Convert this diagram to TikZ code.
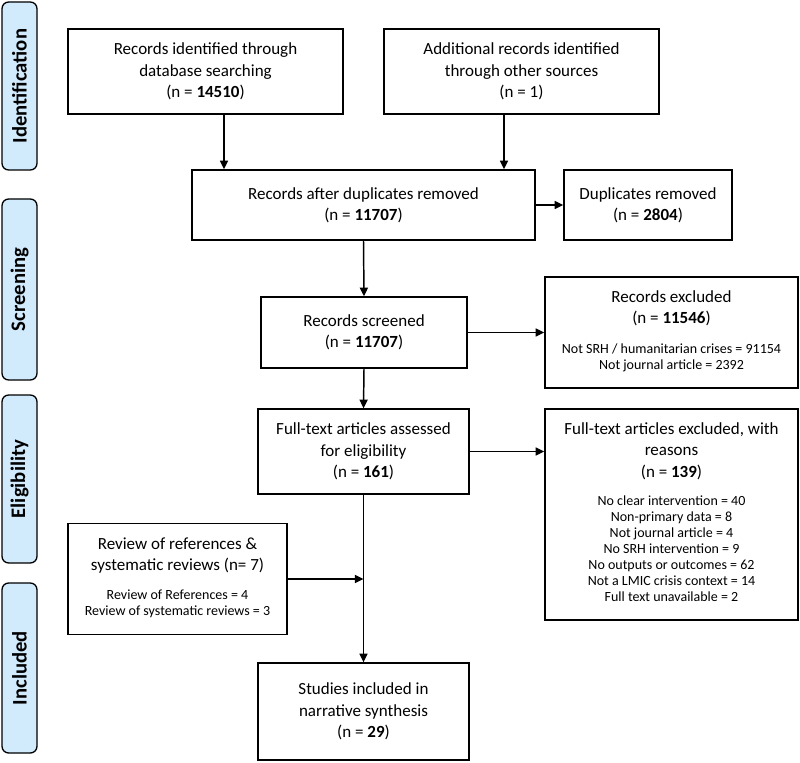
\documentclass[tikz,border=0pt]{standalone}
\usepackage{fontspec}
\setmainfont{Carlito}
\usetikzlibrary{arrows.meta}

\definecolor{stagefill}{RGB}{209,234,252}

\tikzset{every picture/.style={line width=0.75pt}}
\tikzset{
  box/.style={draw, line width=1pt, align=center, inner sep=0.75pt, font=\fontsize{12.75}{16}\selectfont},
  stage/.style={draw, line width=1pt, rounded corners=5pt, fill=stagefill, rotate=90, inner sep=0.75pt, font=\fontsize{15.5}{17}\selectfont\bfseries},
  flow/.style={line width=1.1pt, -{Triangle[length=6.5pt,width=6pt]}},
}
% small lines under a box title
\newcommand{\smalllines}[1]{\fontsize{10.5}{12}\selectfont\begin{tabular}{@{}c@{}}#1\end{tabular}}

\begin{document}
\begin{tikzpicture}[x=0.75pt,y=0.75pt,yscale=-1.0,xscale=1.0]
    \useasboundingbox (0,0) rectangle (800,763);

    % Stage Node
    \node (ident) [stage, minimum width=126pt, minimum height=26.25pt] at (19.5,86) {Identification};
    \node (screen) [stage, minimum width=135.75pt, minimum height=26.25pt] at (19.5,289.5) {Screening};
    \node (elig) [stage, minimum width=126pt, minimum height=26.25pt] at (19.5,479) {Eligibility};
    \node (incl) [stage, minimum width=127.5pt, minimum height=26.25pt] at (19.5,668) {Included};

    % Text Node
    \node (dbsearch) [box, minimum width=206.25pt, minimum height=63.75pt] at (205.5,71.5) {Records identified through\\database searching\\(n = \textbf{14510})};
    % Text Node
    \node (other) [box, minimum width=206.25pt, minimum height=63.75pt] at (521.5,71.5) {Additional records identified\\through other sources\\(n = 1)};
    % Text Node
    \node (dedup) [box, minimum width=257.25pt, minimum height=52.5pt] at (363.5,205) {Records after duplicates removed\\(n = \textbf{11707})};
    % Text Node
    \node (dupl) [box, minimum width=126pt, minimum height=52.5pt] at (648,205) {Duplicates removed\\(n = \textbf{2804})};
    % Text Node
    \node (screened) [box, minimum width=154.5pt, minimum height=53.25pt] at (364,332.5) {Records screened\\(n = \textbf{11707})};
    % Text Node
    \node (excl1) [box, minimum width=189.75pt, minimum height=83.25pt] at (671.5,332.5) {Records excluded\\(n = \textbf{11546})\\[11pt]
      \smalllines{Not SRH / humanitarian crises = 91154\\Not journal article = 2392}};
    % Text Node
    \node (fulltext) [box, minimum width=158.25pt, minimum height=63.75pt] at (363.5,451.5) {Full-text articles assessed\\for eligibility\\(n = \textbf{161})};
    % Text Node
    \node (excl2) [box, minimum width=189.75pt, minimum height=158.25pt] at (671.5,514.5) {Full-text articles excluded, with\\reasons\\(n = \textbf{139})\\[10pt]
      \smalllines{No clear intervention = 40\\Non-primary data = 8\\Not journal article = 4\\No SRH intervention = 9\\No outputs or outcomes = 62\\Not a LMIC crisis context = 14\\Full text unavailable = 2}};
    % Text Node
    \node (review) [box, minimum width=164.25pt, minimum height=83.25pt] at (177.5,579) {Review of references \&\\systematic reviews (n= 7)\\[10pt]
      \smalllines{Review of References = 4\\Review of systematic reviews = 3}};
    % Text Node
    \node (studies) [box, minimum width=158.25pt, minimum height=72.75pt] at (363.5,711.5) {Studies included in\\narrative synthesis\\(n = \textbf{29})};

    % Connection
    \draw [flow] (dbsearch.south -| 224,0) -- (dedup.north -| 224,0);
    % Connection
    \draw [flow] (other.south -| 504,0) -- (dedup.north -| 504,0);
    % Connection
    \draw [flow] (dedup) -- (dupl);
    % Connection
    \draw [flow] (dedup.south) -- (screened.north);
    % Connection
    \draw [flow] (screened) -- (excl1);
    % Connection
    \draw [flow] (screened.south) -- (fulltext.north);
    % Connection
    \draw [flow] (fulltext.east) -- (fulltext.east -| excl2.west);
    % Connection
    \draw [flow] (fulltext.south) -- (studies.north);
    % Connection
    \draw [flow] (review.east) -- (review.east -| fulltext.south);
\end{tikzpicture}
\end{document}
